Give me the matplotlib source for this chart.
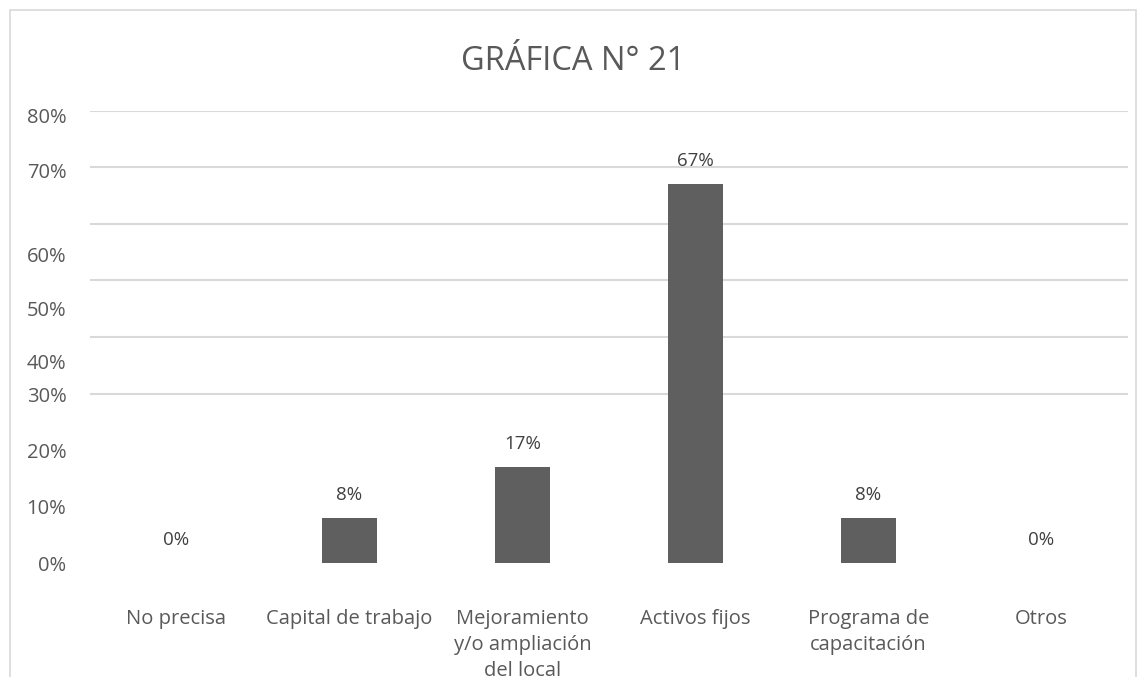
import matplotlib.pyplot as plt
from matplotlib.patches import Rectangle
import numpy as np

plt.rcParams['font.family'] = ['Open Sans', 'DejaVu Sans']

categorias = ["No precisa", "Capital de trabajo", "Mejoramiento\ny/o ampliación\ndel local",
              "Activos fijos", "Programa de\ncapacitación", "Otros"]
valores = [0.0, 0.08, 0.17, 0.67, 0.08, 0.0]
etiquetas = ["0%", "8%", "17%", "67%", "8%", "0%"]

# el eje original tiene las etiquetas corridas respecto a las lineas de grilla
pos_etiquetas_y = [0.0, 0.10, 0.20, 0.298, 0.356, 0.451, 0.546, 0.695, 0.792]
texto_etiquetas_y = ["0%", "10%", "20%", "30%", "40%", "50%", "60%", "70%", "80%"]
grilla_y = np.arange(0, 0.81, 0.1)

gris = "#595959"
fig = plt.figure(figsize=(11.46, 6.77), dpi=100)
ax = fig.add_axes([0.0785, 0.168, 0.9055, 0.6685])

x = np.arange(len(categorias))
ax.bar(x, valores, width=0.32, color="#5f5f5f", zorder=3)
for xi, v, t in zip(x, valores, etiquetas):
    ax.annotate(t, (xi, v), xytext=(0, 10), textcoords="offset points",
                ha="center", va="bottom", fontsize=13.5, color="#404040")

ax.set_xlim(-0.5, len(categorias) - 0.5)
ax.set_ylim(0, 0.8)
ax.set_yticks(grilla_y, minor=True)
ax.set_yticks(pos_etiquetas_y)
ax.set_yticklabels(texto_etiquetas_y)
ax.grid(axis="y", which="minor", color="#d9d9d9", linewidth=1.5, zorder=0)
ax.tick_params(axis="y", which="both", length=0, pad=17, labelsize=14.5, labelcolor=gris)
ax.set_xticks(x)
ax.set_xticklabels(categorias, va="top", linespacing=1.4)
ax.tick_params(axis="x", length=0, pad=33, labelsize=14.5, labelcolor=gris)
for s in ax.spines.values():
    s.set_visible(False)

fig.text(0.5, 0.909, "GRÁFICA N° 21", ha="center", va="center", fontsize=23.5, color=gris)

# borde del area del grafico (cortado abajo)
fig.patches.append(Rectangle((10 / 1146, -0.2), 1126 / 1146, 1.2 - 10 / 677,
                             transform=fig.transFigure, fill=False,
                             edgecolor="#d9d9d9", linewidth=1.2))

plt.savefig("out.png", dpi=100)
